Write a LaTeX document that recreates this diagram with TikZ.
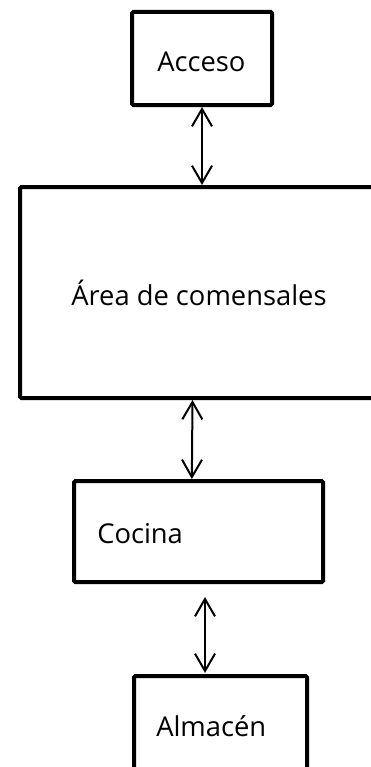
\documentclass[tikz,border=0pt]{standalone}
\usepackage{fontspec}
\setmainfont{Open Sans}
\usetikzlibrary{arrows.meta,calc}
\begin{document}
\begin{tikzpicture}[x=0.75pt,y=-0.75pt,
  box/.style={draw=black,line width=3pt,rounded corners=1pt,inner sep=0pt,fill=white},
  lbl/.style={anchor=base west,inner sep=0pt,font=\fontsize{20.5pt}{24pt}\selectfont},
  link/.style={line width=1.5pt,{Straight Barb[length=13pt,width=15pt,line width=1.5pt]}-{Straight Barb[length=13pt,width=15pt,line width=1.5pt]}}]
\useasboundingbox (0,0) rectangle (371,767);
\clip (0,0) rectangle (371,767);
\fill[white] (0,0) rectangle (371,767);
\node[box,minimum width=105pt,minimum height=69.75pt] (acceso) at (202,58.5) {};
\node[box,minimum width=273.75pt,minimum height=158.25pt] (area) at (202.5,292.5) {};
\node[box,minimum width=186.75pt,minimum height=75.75pt] (cocina) at (198.5,531.5) {};
\node[box,minimum width=129.75pt,minimum height=93pt] (almacen) at (220.5,738) {};
\node[lbl] (tacceso) at (157,71) {Acceso};
\node[lbl] (tarea) at (71,305) {Área de comensales};
\node[lbl] (tcocina) at (97,543) {Cocina};
\node[lbl] (talmacen) at (156,736) {Almacén};
\coordinate (a3top) at (205,597);
\coordinate (a3bot) at (205,673);
\draw[link] (acceso.south) -- (acceso.south |- area.north);
\draw[link] ([xshift=-7.5pt]area.south) -- ([xshift=-5pt]cocina.north);
\draw[link] (a3top) -- (a3bot);
\end{tikzpicture}
\end{document}
